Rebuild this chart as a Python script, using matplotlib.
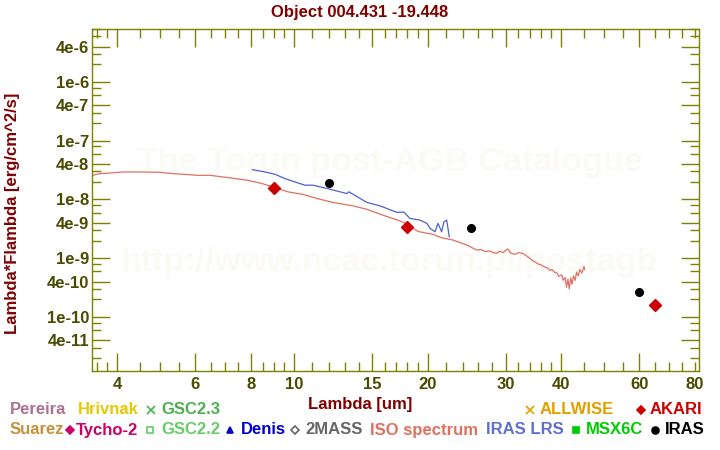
import matplotlib
matplotlib.use("Agg")
import matplotlib.pyplot as plt
from matplotlib.lines import Line2D

# ---------------- data ----------------
iso_wl = [3.52, 3.66, 3.85, 4.12, 4.50, 4.99, 5.34, 5.62, 6.05, 6.47, 6.74, 7.10,
          7.88, 8.47, 9.06, 9.69, 10.48, 11.27, 12.24, 13.58, 14.60, 15.87, 17.06,
          17.97, 19.03, 20.56, 21.51, 22.81, 24.49, 25.79,
          26.4, 27.0, 27.6, 28.1, 28.6, 29.1, 29.6, 30.0, 30.3, 30.8, 31.5, 32.0,
          32.8, 33.3, 33.7, 34.1, 34.5, 35.0, 35.4, 35.9, 36.3, 36.8, 37.3, 37.7,
          38.1, 38.6, 39.1, 39.5, 40.1, 40.4, 40.8, 41.1, 41.4, 41.7, 42.0, 42.3,
          42.6, 43.0, 43.3, 43.7, 44.0, 44.5, 45.0, 45.2]
iso_flux = [2.58e-8, 2.76e-8, 2.82e-8, 2.94e-8, 2.94e-8, 2.90e-8, 2.76e-8, 2.69e-8,
            2.58e-8, 2.58e-8, 2.48e-8, 2.36e-8, 2.12e-8, 1.87e-8, 1.60e-8, 1.35e-8,
            1.22e-8, 1.04e-8, 8.9e-9, 7.8e-9, 6.8e-9, 5.4e-9, 4.5e-9, 3.85e-9,
            2.85e-9, 2.55e-9, 2.23e-9, 2.04e-9, 1.68e-9, 1.38e-9,
            1.40e-9, 1.30e-9, 1.33e-9, 1.24e-9, 1.22e-9, 1.31e-9, 1.25e-9, 1.36e-9,
            1.44e-9, 1.22e-9, 1.16e-9, 1.25e-9, 1.20e-9, 1.12e-9, 1.04e-9, 0.98e-9,
            0.90e-9, 0.86e-9, 0.80e-9, 0.78e-9, 0.74e-9, 0.70e-9, 0.68e-9, 0.62e-9,
            0.64e-9, 0.58e-9, 0.56e-9, 0.49e-9, 0.52e-9, 0.42e-9, 0.47e-9, 0.32e-9,
            0.44e-9, 0.30e-9, 0.46e-9, 0.36e-9, 0.50e-9, 0.42e-9, 0.58e-9, 0.50e-9,
            0.64e-9, 0.56e-9, 0.72e-9, 0.64e-9]

lrs_wl = [8.06, 8.61, 9.06, 9.54, 10.05, 10.59, 11.04, 11.87, 13.16, 13.3, 14.60,
          15.62, 17.06, 17.69, 18.25, 19.22, 19.93, 20.25, 20.78, 21.11, 21.51,
          21.77, 22.08, 22.38]
lrs_flux = [3.22e-8, 2.94e-8, 2.69e-8, 2.27e-8, 1.99e-8, 1.75e-8, 1.75e-8, 1.54e-8,
            1.26e-8, 1.35e-8, 8.9e-9, 7.8e-9, 6.03e-9, 6.1e-9, 4.76e-9, 4.46e-9,
            3.92e-9, 3.22e-9, 2.82e-9, 3.92e-9, 2.82e-9, 4.17e-9, 4.46e-9, 2.32e-9]

iras_wl = [12, 25, 60]
iras_flux = [1.94e-8, 3.22e-9, 2.7e-10]

akari_wl = [9, 18, 65]
akari_flux = [1.57e-8, 3.35e-9, 1.62e-10]

x_major = [4, 6, 8, 10, 15, 20, 30, 40, 60]
x_minor = [3.6, 3.8, 4.5, 5, 5.5, 6.5, 7, 7.5, 8.5, 9, 9.5, 11, 12, 13, 14, 16, 17,
           18, 19, 22, 24, 26, 28, 32, 34, 36, 38, 45, 50, 55, 65, 70, 75, 80]
y_major = [4e-11, 1e-10, 4e-10, 1e-9, 4e-9, 1e-8, 4e-8, 1e-7, 4e-7, 1e-6, 4e-6]
y_major_labels = ["4e-11", "1e-10", "4e-10", "1e-9", "4e-9", "1e-8", "4e-8",
                  "1e-7", "4e-7", "1e-6", "4e-6"]
y_minor = [m * 10.0 ** e for e in range(-11, -5) for m in (2, 3, 6, 8)]

legend_row1 = [("Pereira", "#b07090", None), ("Hrivnak", "#e8c800", None),
               ("GSC2.3", "#4caf50", "x"), ("ALLWISE", "#e0a000", "x"),
               ("AKARI", "#d00000", "D")]
legend_row2 = [("Suarez", "#c8903c", None), ("Tycho-2", "#cc0066", "D"),
               ("GSC2.2", "#66cc66", "s_open"), ("Denis", "#0000cc", "^"),
               ("2MASS", "#666666", "D_open"), ("ISO spectrum", "#e07060", None),
               ("IRAS LRS", "#6070d0", None), ("MSX6C", "#00cc00", "s"),
               ("IRAS", "#000000", "o")]

# ---------------- style ----------------
plt.rcParams['font.family'] = ['Liberation Sans', 'DejaVu Sans']
OLIVE = "#808000"
TICKC = "#4a4a00"
DRED = "#800000"

fig = plt.figure(figsize=(7.2, 4.5), dpi=100)
W, H = 720.0, 450.0
ax = fig.add_axes([92 / W, 1 - 371 / H, (699 - 92) / W, (371 - 29) / H])

# watermark
ax.text(0.49, 1 - (163 - 29) / 342.0, "The Torun post-AGB Catalogue", transform=ax.transAxes,
        ha="center", va="center", fontsize=24.5, fontweight="bold", color="#fbfaf5", zorder=0)
ax.text(0.49, 1 - (262 - 29) / 342.0, "http://www.ncac.torun.pl/postagb", transform=ax.transAxes,
        ha="center", va="center", fontsize=24.5, fontweight="bold", color="#fbfaf5", zorder=0)

ax.plot(iso_wl, iso_flux, color="#e07060", lw=0.9, zorder=2)
ax.plot(lrs_wl, lrs_flux, color="#5060d0", lw=0.9, zorder=3)
ax.plot(iras_wl, iras_flux, "o", color="black", ms=5.5, zorder=4, ls="none")
ax.plot(akari_wl, akari_flux, "D", color="#cc0000", ms=6, zorder=4, ls="none")

ax.set_xscale("log")
ax.set_yscale("log")
ax.set_xlim(3.51, 81.7)
ax.set_ylim(1.2e-11, 7.6e-6)

ax.set_xticks(x_major, labels=[str(v) for v in x_major])
ax.set_xticks(x_minor, labels=["80" if v == 80 else "" for v in x_minor], minor=True)
ax.set_yticks(y_major, labels=y_major_labels)
ax.set_yticks(y_minor, labels=["" for _ in y_minor], minor=True)

ax.tick_params(which="both", direction="in", top=True, right=True, color=OLIVE,
               width=1.0, labelcolor=TICKC, labelsize=12)
ax.tick_params(which="major", length=13)
ax.tick_params(which="minor", length=6.5)
ax.tick_params(axis="x", which="both", pad=4)
ax.tick_params(axis="y", which="both", pad=2)
for lab in ax.get_xticklabels(which="both") + ax.get_yticklabels(which="both"):
    lab.set_fontweight("bold")
for s in ax.spines.values():
    s.set_color(OLIVE)
    s.set_linewidth(1.0)

# titles
fig.text(360 / W, 1 - 12 / H, "Object 004.431 -19.448", ha="center", va="center",
         fontsize=12, fontweight="bold", color=DRED)
fig.text(360 / W, 1 - 405 / H, "Lambda [um]", ha="center", va="center",
         fontsize=12, fontweight="bold", color=DRED)
fig.text(13 / W, 1 - 213 / H, "Lambda*Flambda [erg/cm^2/s]", ha="center", va="center",
         rotation=90, fontsize=12, fontweight="bold", color=DRED)

# legend
row1_pos = [(None, 10), (None, 78), (151, 161), (530, 540), (641, 650)]
row2_pos = [(None, 10), (70, 76), (150, 161), (230, 241), (295, 305), (None, 370),
            (None, 486), (576, 586), (655, 665)]


def draw_row(items, positions, ypix):
    yf = 1 - ypix / H
    for (label, col, mk), (mx, tx) in zip(items, positions):
        if mk is not None:
            face = col
            m = mk
            ms = 5
            if mk.endswith("_open"):
                m = mk.split("_")[0]
                face = "none"
            if m == "x":
                ms = 5.5
            if m == "D":
                ms = 4.5
            fig.add_artist(Line2D([mx / W], [yf], marker=m, color=col, mfc=face,
                                  mec=col, ms=ms, mew=1.2, ls="none"))
        fig.text(tx / W, yf, label, ha="left", va="center", fontsize=12,
                 fontweight="bold", color=col)


draw_row(legend_row1, row1_pos, 410)
draw_row(legend_row2, row2_pos, 430)

fig.savefig("out.png", dpi=100)
